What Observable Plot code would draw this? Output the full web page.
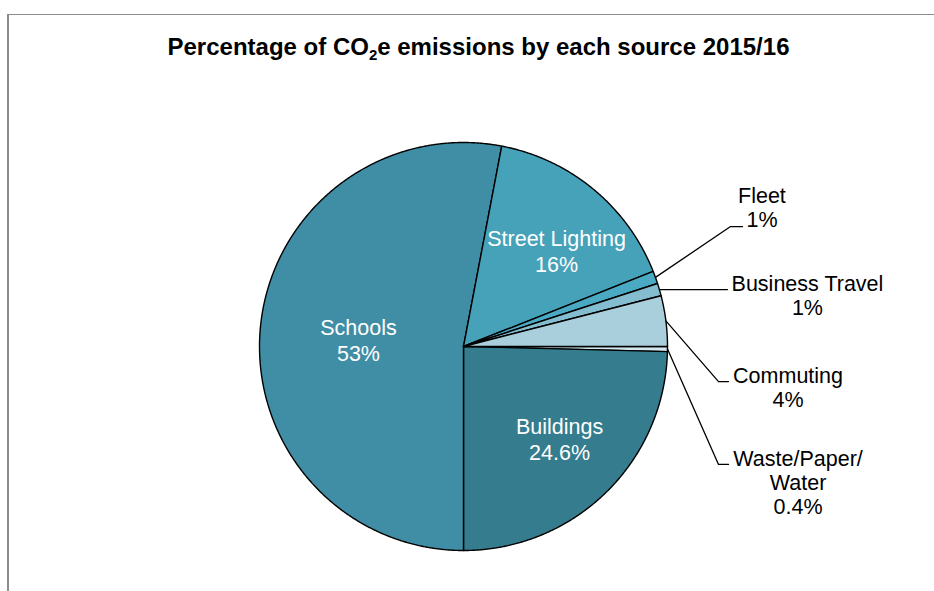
<!DOCTYPE html>
<html>
<head>
<meta charset="utf-8">
<script src="https://cdn.jsdelivr.net/npm/d3@7"></script>
<script src="https://cdn.jsdelivr.net/npm/@observablehq/plot@0.6"></script>
<style>
  html, body { margin: 0; padding: 0; background: #fff; overflow: hidden; }
  #wrap { position: relative; width: 934px; height: 591px; }
  #frame { position: absolute; left: 7px; top: 14px; width: 1000px; height: 700px;
           border-top: 1.5px solid #8c8c8c; border-left: 2px solid #8c8c8c; box-sizing: border-box; }
  #title { position: absolute; left: 0; top: 35px; width: 957px; text-align: center;
           font-family: "Liberation Sans", Arial, sans-serif; font-weight: bold; font-size: 24px;
           line-height: 24px; color: #000; }
  #title sub { font-size: 15px; vertical-align: -5px; line-height: 0; }
  #chart { position: absolute; left: 0; top: 0; }
</style>
</head>
<body>
<div id="wrap">
  <div id="frame"></div>
  <div id="chart"></div>
  <div id="title">Percentage of CO<sub>2</sub>e emissions by each source 2015/16</div>
</div>
<script>
// ---- data ----
const categories = ["Waste/Paper/Water", "Buildings", "Schools", "Street Lighting", "Fleet", "Business Travel", "Commuting"];
const values = [0.4, 24.6, 53, 16, 1, 1, 4];
const pctLabels = ["0.4%", "24.6%", "53%", "16%", "1%", "1%", "4%"];
const nameLabels = ["Waste/Paper/\nWater", "Buildings", "Schools", "Street Lighting", "Fleet", "Business Travel", "Commuting"];
const colors = ["#d2e7ef", "#347c8e", "#3f8ea6", "#46a2b9", "#4aa9c3", "#83bdcf", "#a9cfdc"];

// ---- layout (pie radius in px, label placement in radius units) ----
const R = 204, CX = 463, CY = 346, W = 934, H = 591;
const inside = {
  "Schools":         { lx: -0.515, ly: 0.034 },
  "Street Lighting": { lx: 0.456,  ly: 0.471 },
  "Buildings":       { lx: 0.471,  ly: -0.451 }
};
const outside = {
  "Fleet":             { lx: 1.463, ly: 0.681, ex: 1.309, ey: 0.588, tx: 1.368 },
  "Business Travel":   { lx: 1.686, ly: 0.250, ex: null,  ey: null,  tx: 1.294 },
  "Commuting":         { lx: 1.591, ly: -0.201, ex: 1.250, ey: -0.172, tx: 1.299 },
  "Waste/Paper/Water": { lx: 1.640, ly: -0.667, ex: 1.250, ey: -0.578, tx: 1.299 }
};

const table = categories.map((c, i) => ({ category: c, value: values[i], pct: pctLabels[i], name: nameLabels[i] }));
const arcs = d3.pie().value(d => d.value).sort(null)
  .startAngle(Math.PI / 2).endAngle(Math.PI / 2 + 2 * Math.PI)(table);

// slice polygons
const slicePts = [];
for (const a of arcs) {
  const c = a.data.category;
  slicePts.push({ category: c, x: 0, y: 0 });
  const n = Math.max(2, Math.ceil((a.endAngle - a.startAngle) / 0.005));
  for (let k = 0; k <= n; k++) {
    const t = a.startAngle + (a.endAngle - a.startAngle) * k / n;
    slicePts.push({ category: c, x: Math.sin(t), y: Math.cos(t) });
  }
  slicePts.push({ category: c, x: 0, y: 0 });
}

// labels
const inLabels = [], outLabels = [], leaderPts = [];
for (const a of arcs) {
  const c = a.data.category;
  const mid = (a.startAngle + a.endAngle) / 2;
  const text = a.data.name + "\n" + a.data.pct;
  if (inside[c] != null) {
    inLabels.push({ x: inside[c].lx, y: inside[c].ly, text });
  } else {
    const o = outside[c];
    outLabels.push({ x: o.lx, y: o.ly, text });
    const sx = Math.sin(mid), sy = Math.cos(mid);
    leaderPts.push({ category: c, x: sx, y: sy });
    if (o.ex != null) {
      leaderPts.push({ category: c, x: o.ex, y: o.ey });
      leaderPts.push({ category: c, x: o.tx, y: o.ey });
    } else {
      leaderPts.push({ category: c, x: o.tx, y: sy });
    }
  }
}

const font = "Liberation Sans, Arial, sans-serif";
const plot = Plot.plot({
  width: W, height: H, margin: 0,
  style: { background: "transparent", fontFamily: font },
  x: { domain: [-CX / R, (W - CX) / R], axis: null },
  y: { domain: [-(H - CY) / R, CY / R], axis: null },
  color: { domain: categories, range: colors },
  marks: [
    Plot.line(slicePts, { x: "x", y: "y", z: "category", fill: "category", stroke: "#000", strokeWidth: 1.4, strokeLinejoin: "round", curve: "linear" }),
    Plot.line(leaderPts, { x: "x", y: "y", z: "category", stroke: "#000", strokeWidth: 1.3, curve: "linear" }),
    Plot.text(inLabels, { x: "x", y: "y", text: "text", fill: "#fff", fontSize: 21.5, lineHeight: 1.2, fontFamily: font }),
    Plot.text(outLabels, { x: "x", y: "y", text: "text", fill: "#000", fontSize: 21.5, lineHeight: 1.12, fontFamily: font })
  ]
});
document.getElementById("chart").appendChild(plot);
</script>
</body>
</html>
